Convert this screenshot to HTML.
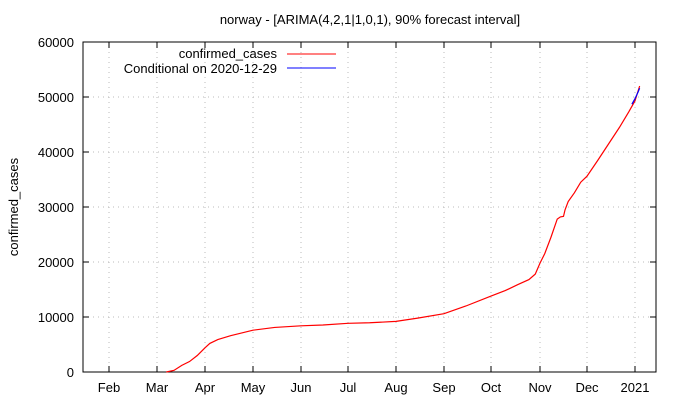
<!DOCTYPE html>
<html><head><meta charset="utf-8"><style>
body{margin:0;background:#fff;}
svg text{font-family:"Liberation Sans","DejaVu Sans",sans-serif;font-size:13px;fill:#000;}
</style></head><body>
<svg id="c" width="680" height="400">
<text x="370" y="24" text-anchor="middle">norway -  [ARIMA(4,2,1|1,0,1), 90% forecast interval]</text>
<text transform="translate(18,207) rotate(-90)" text-anchor="middle">confirmed_cases</text>
<g id="grid"></g><g id="axes"></g><g id="series"></g>
<g>
<text x="277" y="58" text-anchor="end">confirmed_cases</text>
<line x1="287" y1="54" x2="336" y2="54" stroke="#f00"/>
<text x="277" y="73" text-anchor="end">Conditional on 2020-12-29</text>
<line x1="287" y1="68" x2="336" y2="68" stroke="#00f"/>
</g>
</svg>
<script>
const yTicks=[0,10000,20000,30000,40000,50000,60000];
const xTickLabels=["Feb","Mar","Apr","May","Jun","Jul","Aug","Sep","Oct","Nov","Dec","2021"];
const xTickDays=[0,29,60,90,121,151,182,213,243,274,304,335];
// days since 2020-02-01
const confDays=[35,40,45,50,55,60,63,68,76,90,104,121,135,151,165,182,196,213,227,243,252,260,267,271,274,277,281,285,287,289,290,292,296,300,304,311,318,325,331,335,338];
const confVals=[0,300,1200,1900,3000,4400,5200,5900,6600,7600,8100,8400,8550,8850,8950,9200,9800,10600,12000,13800,14800,15900,16800,17800,19800,21500,24500,27800,28200,28300,29500,31000,32600,34500,35600,38500,41500,44500,47300,49300,52000];
const condDays=[333,335,337,338];
const condVals=[48700,49700,50900,51600];
const xTickPx=[109,157,205,253,301,348,396,444,491,540,587,635];
const L=83,R=656,T=42,B=372,NS="http://www.w3.org/2000/svg";
const xs=d=>{let i=0;while(i<xTickDays.length-2&&d>xTickDays[i+1])i++;
 const d0=xTickDays[i],d1=xTickDays[i+1];return xTickPx[i]+(d-d0)*(xTickPx[i+1]-xTickPx[i])/(d1-d0);};
const ys=v=>B-(v/60000)*(B-T);
function mk(t,a,p){const e=document.createElementNS(NS,t);for(const k in a)e.setAttribute(k,a[k]);p.appendChild(e);return e;}
const g=document.getElementById('grid'),ax=document.getElementById('axes'),s=document.getElementById('series');
yTicks.forEach(v=>{const y=ys(v);
 if(v>0&&v<60000){const l=mk('line',{x1:L,x2:R,y1:y,y2:y,stroke:'#bbb','stroke-dasharray':'1,4'},g);
 
 }
 mk('line',{x1:L,x2:L+6,y1:y,y2:y,stroke:'#000'},ax);mk('line',{x1:R,x2:R-6,y1:y,y2:y,stroke:'#000'},ax);
 const t=mk('text',{x:L-9,y:y+5,'text-anchor':'end'},ax);t.textContent=v;
 
 });
xTickDays.forEach((d,i)=>{const x=xs(d);
 const l=mk('line',{x1:x,x2:x,y1:T,y2:B,stroke:'#bbb','stroke-dasharray':'1,4'},g);
 
 
 mk('line',{x1:x,x2:x,y1:B,y2:B-6,stroke:'#000'},ax);mk('line',{x1:x,x2:x,y1:T,y2:T+6,stroke:'#000'},ax);
 const t=mk('text',{x:x,y:B+20,'text-anchor':'middle'},ax);t.textContent=xTickLabels[i];
 
 });
const f=mk('rect',{x:L,y:T,width:R-L,height:B-T,fill:'none',stroke:'#000'},ax);


const p1=mk('polyline',{points:confDays.map((d,i)=>xs(d)+','+ys(confVals[i])).join(' '),fill:'none',stroke:'#f00','stroke-width':1.2},s);


const p2=mk('polyline',{points:condDays.map((d,i)=>xs(d)+','+ys(condVals[i])).join(' '),fill:'none',stroke:'#00f','stroke-width':1.2},s);


</script>
</body></html>
